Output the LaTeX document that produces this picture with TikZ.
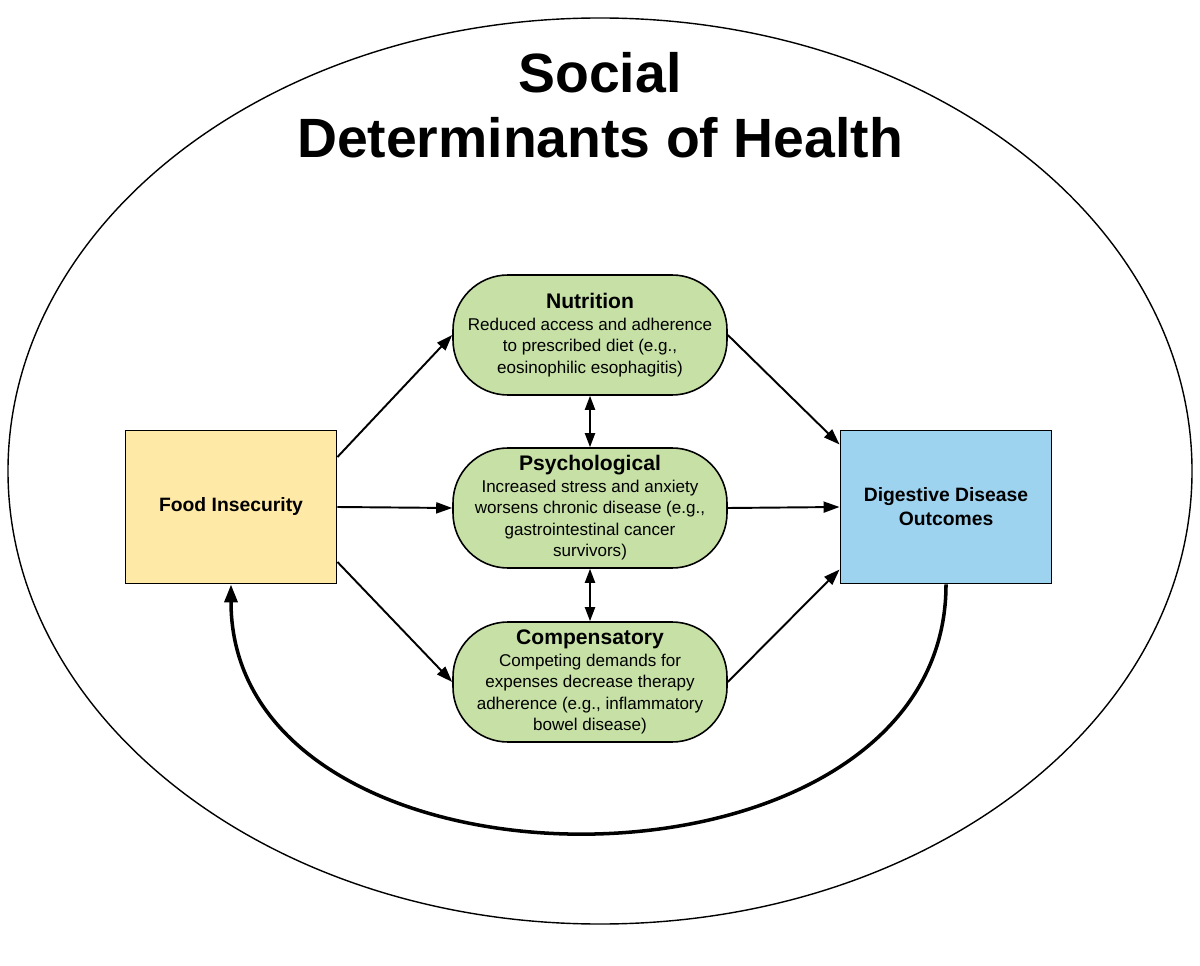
\documentclass[tikz,border=0pt]{standalone}
\usepackage{fontspec}
\setmainfont{Liberation Sans}
\usetikzlibrary{arrows.meta}

\definecolor{foodyellow}{RGB}{254,233,166}
\definecolor{outcomeblue}{RGB}{158,211,240}
\definecolor{factorgreen}{RGB}{198,224,166}

\newcommand{\factortitle}[1]{{\fontsize{12}{14}\selectfont\bfseries #1}}

\begin{document}
\begin{tikzpicture}[
  x=0.2mm, y=-0.2mm,
  box/.style={rectangle,draw,line width=1.1pt,minimum width=42.2mm,minimum height=30.6mm,align=center,font=\fontsize{11}{13.7}\selectfont\bfseries},
  factor/.style={rectangle,rounded corners=11mm,draw,line width=0.9pt,fill=factorgreen,minimum width=54.8mm,minimum height=24mm,align=center,inner sep=0pt,font=\fontsize{9.7}{12.2}\selectfont},
  link/.style={draw,line width=1.1pt,-{Triangle[length=3.2mm,width=2.2mm]}},
  twoway/.style={draw,line width=1.1pt,{Triangle[length=2.8mm,width=2mm]}-{Triangle[length=2.8mm,width=2mm]}},
  feedback/.style={draw,line width=2pt,-{Triangle[length=3.6mm,width=2.6mm]}}
]
\useasboundingbox (0,0) rectangle (1200,966);

\draw[line width=0.8pt] (600,471) ellipse [x radius=118.4mm, y radius=90.6mm];

\node[font=\fontsize{31.5}{37}\selectfont\bfseries,align=center] (title) at (600,105) {Social\\Determinants of Health};

\node[box,fill=foodyellow] (food) at (231,507) {Food Insecurity};
\node[box,fill=outcomeblue] (outcome) at (946,507) {Digestive Disease\\Outcomes};

\node[factor] (nutrition) at (590,335) {\factortitle{Nutrition}\\Reduced access and adherence\\to prescribed diet (e.g.,\\eosinophilic esophagitis)};
\node[factor] (psych) at (590,508) {\factortitle{Psychological}\\Increased stress and anxiety\\worsens chronic disease (e.g.,\\gastrointestinal cancer\\survivors)};
\node[factor] (comp) at (590,682) {\factortitle{Compensatory}\\Competing demands for\\expenses decrease therapy\\adherence (e.g., inflammatory\\bowel disease)};

\draw[link] ([yshift=10mm]food.east) -- (nutrition.west);
\draw[link] (food.east) -- (psych.west);
\draw[link] ([yshift=-11mm]food.east) -- (comp.west);
\draw[link] (nutrition.east) -- ([yshift=12.5mm]outcome.west);
\draw[link] (psych.east) -- (outcome.west);
\draw[link] (comp.east) -- ([yshift=-12.5mm]outcome.west);

\draw[twoway] (nutrition.south) -- (psych.north);
\draw[twoway] (psych.south) -- (comp.north);

% back to food insecurity
\draw[feedback] (outcome.south) .. controls +(0,330) and +(0,330) .. (food.south);

\end{tikzpicture}
\end{document}
